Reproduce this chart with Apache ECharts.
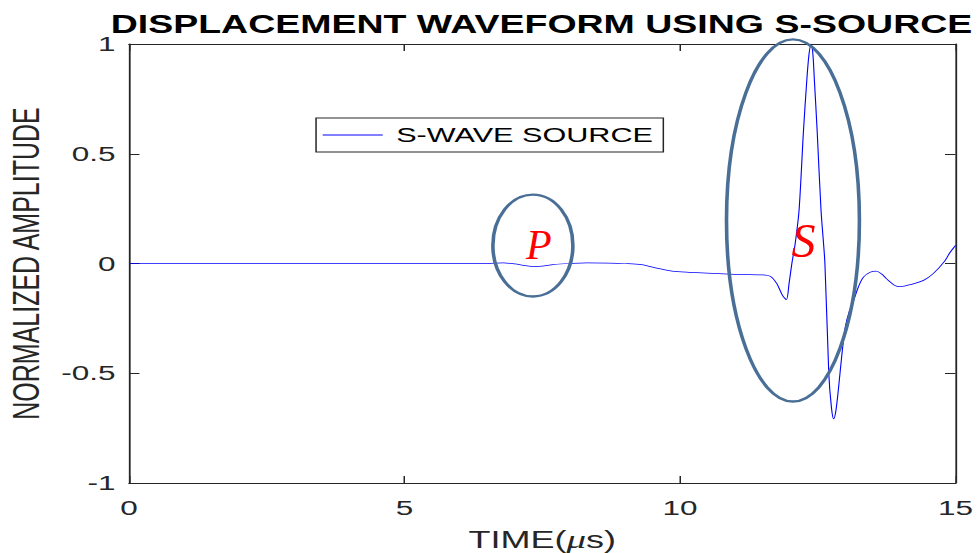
<!DOCTYPE html>
<html>
<head>
<meta charset="utf-8">
<script src="https://cdn.jsdelivr.net/npm/echarts@6/dist/echarts.min.js"></script>
<style>
  html, body { margin: 0; padding: 0; background: #fff; }
  #wrap { width: 980px; height: 553px; overflow: hidden; }
  /* the figure is laid out narrow and stretched horizontally */
  #chart { width: 653.33px; height: 553px; transform: scaleX(1.5); transform-origin: 0 0; }
</style>
</head>
<body>
<div id="wrap"><div id="chart"></div></div>
<script>
// Time axis (microseconds) and normalized displacement amplitude
const times = [0, 6.5, 6.8, 7.0, 7.2, 7.35, 7.5, 7.7, 8.0, 8.3,
  8.7, 9.0, 9.3, 9.6, 9.9, 10.3, 10.9, 11.5, 11.65, 11.76,
  11.86, 11.93, 11.98, 12.03, 12.09, 12.16, 12.24, 12.30, 12.34, 12.38,
  12.41, 12.44, 12.49, 12.56, 12.63, 12.70, 12.75, 12.79, 12.83, 12.88,
  12.94, 13.0, 13.07, 13.15, 13.24, 13.33, 13.45, 13.56, 13.66, 13.75,
  13.9, 14.0, 14.2, 14.42, 14.6, 14.8, 14.9, 15.0];
const amplitude = [0, 0, 0.003, -0.002, -0.010, -0.014, -0.012, -0.005, 0.0, 0.003,
  0.002, 0.0, -0.005, -0.022, -0.036, -0.042, -0.048, -0.052, -0.06, -0.093,
  -0.145, -0.165, -0.09, 0.0, 0.09, 0.24, 0.60, 0.83, 0.95, 1.0,
  0.96, 0.83, 0.60, 0.24, 0.0, -0.5, -0.66, -0.708, -0.67, -0.56,
  -0.41, -0.29, -0.22, -0.17, -0.105, -0.062, -0.04, -0.035, -0.048, -0.07,
  -0.10, -0.105, -0.095, -0.077, -0.045, 0.01, 0.05, 0.082];

const xTicks = [0, 5, 10, 15];
const yTicks = [-1, -0.5, 0, 0.5, 1];

const seriesName = 'S-WAVE SOURCE';
const titleText = 'DISPLACEMENT WAVEFORM USING S-SOURCE';

// Highlighted arrivals: [centre time, centre amplitude, half-width, half-height]
const pRegion = [7.33, 0.082, 0.726, 0.232];
const sRegion = [12.05, 0.196, 1.206, 0.825];
const pLabelAt = [7.44, 0.082];
const sLabelAt = [12.24, 0.105];

const STRETCH = 1.5;
const axisColor = '#262626';
const sans = '"Liberation Sans", Arial, Helvetica, sans-serif';

const chart = echarts.init(document.getElementById('chart'), null, { renderer: 'svg' });

const points = times.map((t, i) => [t, amplitude[i]]);

function axisCommon(extra) {
  return Object.assign({
    type: 'value',
    axisLine: { show: true, onZero: false, lineStyle: { color: axisColor, width: 1.2 } },
    axisTick: { show: true, inside: true, length: 7, lineStyle: { color: axisColor, width: 1 } },
    splitLine: { show: false },
    axisLabel: { color: axisColor, fontFamily: sans }
  }, extra);
}

chart.setOption({
  animation: false,
  backgroundColor: '#fff',
  title: {
    text: titleText,
    left: 361,
    textAlign: 'center',
    top: 9,
    padding: 0,
    textStyle: { fontFamily: sans, fontWeight: 'bold', fontSize: 25, lineHeight: 30, color: '#000' }
  },
  legend: {
    data: [seriesName],
    left: 210.7,
    top: 118,
    padding: [7, 7, 7, 4],
    itemWidth: 40,
    itemHeight: 20,
    itemStyle: { opacity: 0 },
    lineStyle: { color: '#0000ff', width: 0.9 },
    borderColor: axisColor,
    borderWidth: 1,
    backgroundColor: '#fff',
    textStyle: { fontFamily: sans, fontSize: 20.4, color: '#000', padding: [0, 0, 0, 4] }
  },
  grid: { left: 86, right: 16, top: 44, bottom: 70, containLabel: false, outerBoundsMode: 'none' },
  xAxis: [
    axisCommon({
      position: 'bottom',
      min: xTicks[0], max: xTicks[xTicks.length - 1], interval: xTicks[1] - xTicks[0],
      axisLabel: { color: axisColor, fontFamily: sans, fontSize: 21, margin: 14 },
      name: 'TIME({mu|μ}s)',
      nameLocation: 'middle',
      nameGap: 43,
      nameTextStyle: {
        fontFamily: sans, fontSize: 24, color: axisColor,
        rich: { mu: { fontFamily: '"Liberation Serif", serif', fontStyle: 'italic', fontSize: 26, color: axisColor } }
      }
    }),
    axisCommon({
      position: 'top',
      min: xTicks[0], max: xTicks[xTicks.length - 1], interval: xTicks[1] - xTicks[0],
      axisLabel: { show: false }
    })
  ],
  yAxis: [
    axisCommon({
      position: 'left',
      min: yTicks[0], max: yTicks[yTicks.length - 1], interval: yTicks[1] - yTicks[0],
      axisLabel: { color: axisColor, fontFamily: sans, fontSize: 21, margin: 9 },
      name: 'NORMALIZED AMPLITUDE',
      nameLocation: 'middle',
      nameGap: 56,
      nameTextStyle: { fontFamily: sans, fontSize: 25, color: axisColor }
    }),
    axisCommon({
      position: 'right',
      min: yTicks[0], max: yTicks[yTicks.length - 1], interval: yTicks[1] - yTicks[0],
      axisLabel: { show: false }
    })
  ],
  series: [{
    name: seriesName,
    type: 'line',
    data: points,
    showSymbol: false,
    symbol: 'none',
    smooth: 0.3,
    lineStyle: { color: '#0000ff', width: 0.75 },
    itemStyle: { color: '#0000ff' },
    z: 3
  }]
});

// Ellipses and arrival labels placed in data coordinates
function px(p) { return chart.convertToPixel({ xAxisIndex: 0, yAxisIndex: 0 }, p); }
function ellipse(r) {
  const c = px([r[0], r[1]]);
  const e = px([r[0] + r[2], r[1] + r[3]]);
  return {
    type: 'ellipse',
    shape: { cx: c[0], cy: c[1], rx: Math.abs(e[0] - c[0]), ry: Math.abs(e[1] - c[1]) },
    style: { fill: 'none', stroke: '#4a6f97', lineWidth: 2.4 },
    z: 10
  };
}
function letter(ch, at, size) {
  const c = px(at);
  return {
    type: 'text',
    x: c[0], y: c[1],
    scaleX: 1 / STRETCH,
    style: {
      text: ch,
      font: 'italic ' + size + 'px "Liberation Serif", "Times New Roman", serif',
      fill: '#ff0000',
      align: 'center',
      verticalAlign: 'middle'
    },
    z: 11
  };
}

chart.setOption({
  graphic: [
    ellipse(pRegion),
    ellipse(sRegion),
    letter('P', pLabelAt, 42),
    letter('S', sLabelAt, 48)
  ]
});
</script>
</body>
</html>
